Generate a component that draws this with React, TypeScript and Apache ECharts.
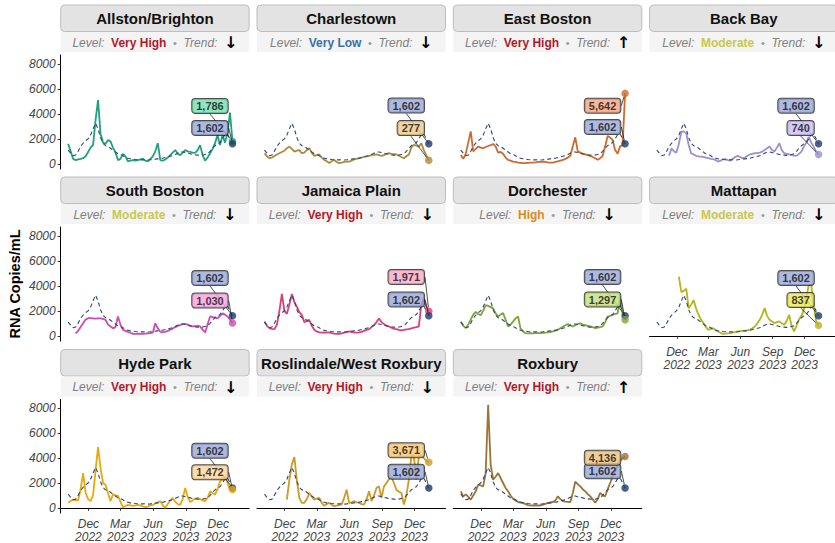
import React, { useEffect, useRef } from "react";
import * as echarts from "echarts";

// ---------- data ----------
// weekly samples, first on 5 Oct 2022, last on 10 Jan 2024
const START_Y = 2022, START_M = 9, START_D = 5;
const N_WEEKS = 67;
const weekDates: number[] = Array.from({ length: N_WEEKS }, (_, i) =>
  new Date(START_Y, START_M, START_D + 7 * i).getTime()
);

const bostonAvg = [
  1100, 850, 650, 700, 1000, 1400, 1650, 1850, 2000, 2300,
  2800, 3250, 2800, 2100, 1650, 1450, 1400, 1250, 1100, 950,
  800, 750, 650, 500, 450, 400, 380, 350, 330, 320,
  320, 330, 300, 320, 350, 380, 400, 420, 450, 500,
  550, 600, 650, 750, 850, 950, 950, 900, 850, 800,
  750, 720, 700, 680, 700, 750, 800, 1000, 1250, 1450,
  1600, 1700, 2000, 2350, 2400, 2000, 1602,
];
const allston = [
  1600, 1000, 400, 300, 350, 400, 450, 600, 950, 1300,
  1500, 3500, 5100, 2400, 1700, 1600, 1900, 1800, 1300, 900,
  300, 400, 800, 600, 200, 250, 300, 250, 300, 350,
  400, 250, 200, 400, 600, 1000, 1650, 300, 250, 350,
  500, 700, 900, 1100, 800, 700, 900, 1100, 1000, 950,
  900, 880, 1100, 1500, 700, 250, 500, 850, 1200, 1650,
  2300, 1500, 2300, 1700, 2500, 4100, 1786,
];
const charlestown = [
  850, 600, 450, 500, 620, 750, 850, 950, 1050, 1250,
  1380, 1200, 980, 1050, 1100, 850, 900, 1100, 1250, 900,
  640, 700, 750, 500, 318, 200, 60, 200, 318, 150,
  60, 100, 150, 180, 180, 250, 350, 400, 450, 500,
  550, 600, 640, 700, 720, 750, 700, 640, 700, 800,
  850, 800, 780, 750, 650, 550, 450, 600, 750, 1300,
  1510, 1450, 1380, 1650, 1100, 700, 277,
];
const eastBoston = [
  700, 400, 800, 1700, 2600, 1000, 1200, 1380, 1300, 1250,
  1350, 1430, 1500, 1590, 1400, 900, 950, 800, 500, 318,
  250, 180, 150, 100, 80, 50, 60, 80, 100, 100,
  120, 150, 160, 180, 150, 120, 100, 100, 150, 200,
  250, 318, 400, 500, 640, 1400, 2120, 1000, 900, 800,
  750, 700, 640, 550, 450, 318, 450, 640, 1400, 2230,
  2100, 1910, 1100, 800, 1400, 1500, 5642,
];
const backBay = [
  null, null, null, null, null, 640, 1250, 1000, 900, 1600,
  2570, 2600, 2440, 1500, 850, 750, 640, 600, 580, 560,
  500, 450, 400, 370, 300, 180, 250, 370, 370, 300,
  260, 400, 550, 640, 550, 450, 500, 650, 750, 800,
  850, 850, 900, 980, 1100, 1250, 1380, 1100, 980, 1300,
  1650, 1100, 850, 800, 750, 700, 650, 640, 800, 980,
  1380, 1700, 2170, 1700, 1380, 1000, 740,
];
const southBoston = [
  null, null, null, 200, 400, 700, 1000, 1300, 1410, 1420,
  1400, 1380, 1400, 1400, 1350, 1280, 900, 750, 600, 700,
  1550, 900, 480, 400, 320, 250, 160, 150, 170, 160,
  160, 180, 200, 210, 250, 1000, 600, 320, 300, 320,
  400, 500, 580, 700, 800, 850, 950, 950, 900, 800,
  750, 780, 800, 750, 500, 270, 900, 1550, 1500, 1450,
  1400, 1600, 1800, 1700, 1550, 1300, 1030,
];
const jamaicaPlain = [
  1150, 800, 620, 560, 540, 900, 2000, 3360, 2000, 1760,
  2500, 3360, 2700, 2340, 1900, 1680, 1100, 1200, 1280, 800,
  480, 350, 270, 260, 270, 260, 270, 220, 180, 160,
  160, 200, 250, 300, 350, 300, 270, 260, 270, 320,
  400, 480, 540, 700, 860, 1100, 1390, 1100, 940, 800,
  750, 650, 560, 540, 480, 430, 470, 520, 540, 600,
  650, 690, 750, 2500, 2990, 2340, 1971,
];
const dorchester = [
  1140, 800, 620, 900, 1300, 1700, 1920, 1750, 1650, 2000,
  2460, 2400, 2300, 2200, 1800, 1550, 1700, 1820, 1300, 750,
  900, 1140, 1400, 1550, 600, 350, 210, 200, 210, 200,
  210, 210, 220, 240, 260, 270, 300, 350, 420, 480,
  600, 720, 850, 940, 850, 750, 850, 950, 1000, 900,
  850, 800, 750, 700, 610, 650, 700, 750, 1100, 1550,
  1600, 1680, 1750, 1800, 3150, 1800, 1297,
];
const mattapan = [
  null, null, null, null, null, null, null, null, null, 4750,
  3500, 3600, 3790, 2200, 2500, 2860, 2200, 1690, 1300, 1020,
  700, 480, 550, 620, 450, 350, 250, 160, 180, 200,
  210, 250, 300, 350, 380, 400, 420, 430, 500, 600,
  750, 1000, 1280, 1700, 2220, 1600, 1280, 1150, 1020, 1100,
  1150, 1000, 880, 1200, 1690, 800, 350, 800, 1300, 1600,
  2080, 3000, 4080, 4080, 2500, 1200, 837,
];
const hydePark = [
  400, 550, 660, 620, 610, 1500, 2800, 1200, 700, 540,
  1000, 3000, 4880, 3200, 2000, 1860, 1200, 540, 1070, 1000,
  990, 500, 20, 150, 240, 200, 160, 200, 240, 200,
  120, 50, 100, 200, 240, 350, 450, 540, 200, 0,
  300, 600, 800, 500, 300, 240, 700, 1600, 900, 470,
  600, 750, 800, 700, 600, 540, 800, 1330, 1200, 1070,
  1500, 2130, 2300, 2530, 2000, 1470, 1472,
];
const roslindale = [
  null, null, null, null, null, null, null, null, null, 660,
  2260, 3500, 4080, 2260, 800, 400, 400, 700, 1200, 900,
  660, 750, 800, 400, 160, 300, 400, 250, 130, 180,
  220, 270, 800, 1460, 400, 450, 540, 450, 400, 300,
  270, 700, 1330, 540, 1000, 1600, 1730, 800, 1730, 2000,
  2300, 2480, 2000, 1460, 1300, 1200, 270, 1000, 2260, 4190,
  4190, 2260, 4190, 4190, 4000, 3800, 3671,
];
const roxbury = [
  1330, 930, 1070, 900, 660, 1000, 1330, 1860, 1800, 1730,
  2800, 8300, 3500, 2260, 2500, 2800, 2400, 2000, 1600, 1330,
  1000, 730, 600, 470, 430, 400, 300, 220, 190, 190,
  200, 190, 190, 250, 320, 400, 430, 470, 600, 930,
  700, 540, 500, 480, 470, 1200, 2100, 1900, 1730, 1500,
  1330, 1100, 930, 700, 400, 700, 1200, 1000, 930, 1500,
  2000, 2530, 2900, 3460, 3800, 4000, 4136,
];

const yTicks = [0, 2000, 4000, 6000, 8000];
const yTickLabels = ["0", "2000", "4000", "6000", "8000"];
const xTickDates = ["2022-12-01", "2023-03-01", "2023-06-01", "2023-09-01", "2023-12-01"];
const xTickLabels = ["Dec\n2022", "Mar\n2023", "Jun\n2023", "Sep\n2023", "Dec\n2023"];

const districtNames = [
  "Allston/Brighton", "Charlestown", "East Boston", "Back Bay",
  "South Boston", "Jamaica Plain", "Dorchester", "Mattapan",
  "Hyde Park", "Roslindale/West Roxbury", "Roxbury",
];
const districtSeries = [
  allston, charlestown, eastBoston, backBay,
  southBoston, jamaicaPlain, dorchester, mattapan,
  hydePark, roslindale, roxbury,
];
const levels = [
  "Very High", "Very Low", "Very High", "Moderate",
  "Moderate", "Very High", "High", "Moderate",
  "Very High", "Very High", "Very High",
];
const trends = ["↓", "↓", "↑", "↓", "↓", "↓", "↓", "↓", "↓", "↓", "↑"];

// ---------- styles ----------
const FONT = '"Liberation Sans", Arial, Helvetica, sans-serif';
const lineColors = [
  "#21a27b", "#ae8b3c", "#d0692c", "#9c8fd0",
  "#cf4bb0", "#db3f79", "#7fa33c", "#b5b51c",
  "#e9a90c", "#cf9a20", "#9c7434",
];
const labelFills = [
  "#72dfae", "#ecc98a", "#f5a381", "#c9bdf5",
  "#f7a2e0", "#f7a9c5", "#c3e07f", "#e8e85a",
  "#ffd59a", "#f8c56f", "#e8c07f",
];
const levelColors: Record<string, string> = {
  "Very High": "#b2182b",
  "High": "#e0891a",
  "Moderate": "#c8c84a",
  "Low": "#7fb2d6",
  "Very Low": "#3b6ea8",
};
const BOSTON_COLOR = "#2a4878";
const BOSTON_DOT = "#1d3a68";
const BOSTON_FILL = "#9aa7d8";

// label vertical offsets (px) relative to the end point: [district, boston]
const labelDy: [number, number][] = [
  [-35.5, -15.8], [-32.3, -38.3], [12.3, -16.8], [-26.6, -38.1],
  [-22.4, -37.8], [-34.2, -16.3], [-20.1, -38.8], [-25.4, -37.8],
  [-17.2, -37.3], [-12, -16.3], [1.3, -16.8],
];

// layout
const COL_LEFT = [60.7, 257, 453.3, 649.5];
const ROW_TOP = [55, 227, 399.5];
const PANEL_W = 188.5;
const PANEL_H = 114;
const Y_MIN = -415;
const Y_MAX = 8720;
const X_MIN = new Date(2022, 8, 14).getTime();
const X_MAX = new Date(2024, 1, 26).getTime();

function toTime(s: string) {
  const [y, m, d] = s.split("-").map(Number);
  return new Date(y, m - 1, d).getTime();
}

function buildOption() {
  const xTickValues = xTickDates.map(toTime);
  const grids: any[] = [];
  const xAxes: any[] = [];
  const yAxes: any[] = [];
  const series: any[] = [];
  const graphics: any[] = [];
  const nCols = 4;
  const lastIdx = N_WEEKS - 1;
  const lastDate = weekDates[lastIdx];

  districtNames.forEach((name, k) => {
    const r = Math.floor(k / nCols);
    const c = k % nCols;
    const left = COL_LEFT[c];
    const top = ROW_TOP[r];
    const isBottom = k + nCols >= districtNames.length;
    grids.push({ left, top, width: PANEL_W, height: PANEL_H, containLabel: false });
    xAxes.push({
      type: "value",
      gridIndex: k,
      min: X_MIN,
      max: X_MAX,
      show: isBottom,
      axisLine: { show: true, lineStyle: { color: "#000", width: 1 } },
      axisTick: { show: true, length: 3, customValues: xTickValues, lineStyle: { color: "#333" } },
      axisLabel: {
        customValues: xTickValues,
        formatter: (v: number) => {
          const i = xTickValues.findIndex((t) => Math.abs(t - v) < 86400000 * 2);
          return i >= 0 ? xTickLabels[i] : "";
        },
        fontFamily: FONT,
        fontStyle: "italic",
        fontSize: 12,
        lineHeight: 13,
        color: "#444",
        margin: 4,
      },
      splitLine: { show: false },
    });
    yAxes.push({
      type: "value",
      gridIndex: k,
      min: Y_MIN,
      max: Y_MAX,
      show: c === 0,
      axisLine: { show: true, lineStyle: { color: "#000", width: 1 } },
      axisTick: { show: true, length: 3, customValues: yTicks, lineStyle: { color: "#333" } },
      axisLabel: {
        customValues: yTicks,
        formatter: (v: number) => {
          const i = yTicks.findIndex((t) => Math.abs(t - v) < 1);
          return i >= 0 ? yTickLabels[i] : "";
        },
        fontFamily: FONT,
        fontStyle: "italic",
        fontSize: 12,
        color: "#444",
        margin: 5,
      },
      splitLine: { show: false },
    });

    const vals = districtSeries[k];
    const lastVal = vals[lastIdx] as number;
    const bostonLast = bostonAvg[lastIdx];
    const labelBase = {
      show: true,
      position: "left",
      distance: 1,
      fontFamily: FONT,
      fontWeight: "bold",
      fontSize: 11,
      color: "#111",
      lineHeight: 12,
      padding: [1, 4, 1, 4],
      borderColor: "#222",
      borderWidth: 1,
      borderRadius: 3,
    };
    // the label sitting lower is drawn on top so the other label's leader line passes behind it
    const districtOnTop = labelDy[k][0] > labelDy[k][1];

    series.push({
      type: "line",
      name: name,
      xAxisIndex: k,
      yAxisIndex: k,
      data: weekDates.map((d, i) => [d, vals[i]]),
      showSymbol: false,
      connectNulls: false,
      lineStyle: { color: lineColors[k], width: 1.8 },
      itemStyle: { color: lineColors[k] },
      z: 2,
    });
    series.push({
      type: "line",
      name: "Boston",
      xAxisIndex: k,
      yAxisIndex: k,
      data: weekDates.map((d, i) => [d, bostonAvg[i]]),
      showSymbol: false,
      lineStyle: { color: BOSTON_COLOR, width: 1.1, type: [4, 3] },
      itemStyle: { color: BOSTON_COLOR },
      z: 3,
    });
    series.push({
      type: "scatter",
      xAxisIndex: k,
      yAxisIndex: k,
      data: [[lastDate, lastVal]],
      symbolSize: 7.5,
      itemStyle: { color: lineColors[k] },
      label: {
        ...labelBase,
        backgroundColor: labelFills[k],
        formatter: () => lastVal.toLocaleString("en-US"),
      },
      labelLayout: { dy: labelDy[k][0] },
      labelLine: { show: true, lineStyle: { color: "#222", width: 0.8 } },
      z: districtOnTop ? 5 : 4,
    });
    series.push({
      type: "scatter",
      xAxisIndex: k,
      yAxisIndex: k,
      data: [[lastDate, bostonLast]],
      symbolSize: 7.5,
      itemStyle: { color: BOSTON_DOT },
      label: {
        ...labelBase,
        backgroundColor: BOSTON_FILL,
        formatter: () => bostonLast.toLocaleString("en-US"),
      },
      labelLayout: { dy: labelDy[k][1] },
      labelLine: { show: true, lineStyle: { color: "#222", width: 0.8 } },
      z: districtOnTop ? 4 : 5,
    });

    // strip
    const stripTop = top - 50;
    graphics.push({
      type: "rect",
      shape: { x: left, y: stripTop, width: PANEL_W, height: 26.5, r: 4 },
      style: { fill: "#e3e3e3", stroke: "#bdbdbd", lineWidth: 1 },
      silent: true,
    });
    graphics.push({
      type: "text",
      x: left + PANEL_W / 2,
      y: stripTop + 13.5,
      style: {
        text: name,
        font: `bold 15px ${FONT}`,
        fill: "#111",
        textAlign: "center",
        textVerticalAlign: "middle",
      },
      silent: true,
    });
    graphics.push({
      type: "rect",
      shape: { x: left, y: stripTop + 27, width: PANEL_W, height: 20 },
      style: { fill: "#f4f4f4" },
      silent: true,
    });
    graphics.push({
      type: "text",
      x: left + PANEL_W / 2,
      y: stripTop + 37.5,
      style: {
        text: `{l|Level:}  {v|${levels[k]}}  {d|•}  {l|Trend:}  {a|${trends[k]}}`,
        font: `12px ${FONT}`,
        fill: "#808080",
        textAlign: "center",
        textVerticalAlign: "middle",
        rich: {
          l: { fontFamily: FONT, fontStyle: "italic", fontSize: 12, fill: "#808080", color: "#808080" },
          v: { fontFamily: FONT, fontWeight: "bold", fontSize: 12, fill: levelColors[levels[k]], color: levelColors[levels[k]] },
          d: { fontFamily: FONT, fontSize: 11, fill: "#9a9a9a", color: "#9a9a9a" },
          a: { fontFamily: '"DejaVu Sans", ' + FONT, fontWeight: "bold", fontSize: 16, fill: "#000", color: "#000" },
        },
      },
      silent: true,
    });
  });

  graphics.push({
    type: "text",
    x: 15,
    y: 284,
    rotation: Math.PI / 2,
    style: {
      text: "RNA Copies/mL",
      font: `bold 14.5px ${FONT}`,
      fill: "#000",
      textAlign: "center",
      textVerticalAlign: "middle",
    },
    silent: true,
  });

  return {
    animation: false,
    backgroundColor: "#ffffff",
    textStyle: { fontFamily: FONT },
    grid: grids,
    xAxis: xAxes,
    yAxis: yAxes,
    series,
    graphic: graphics,
  };
}

export default function App() {
  const ref = useRef<HTMLDivElement>(null);
  useEffect(() => {
    if (!ref.current) return;
    const chart = echarts.init(ref.current, undefined, { renderer: "svg" });
    chart.setOption(buildOption() as any);
    return () => chart.dispose();
  }, []);
  return (
    <div
      ref={ref}
      style={{ position: "absolute", left: 0, top: 0, width: 835, height: 543, background: "#fff" }}
    />
  );
}
